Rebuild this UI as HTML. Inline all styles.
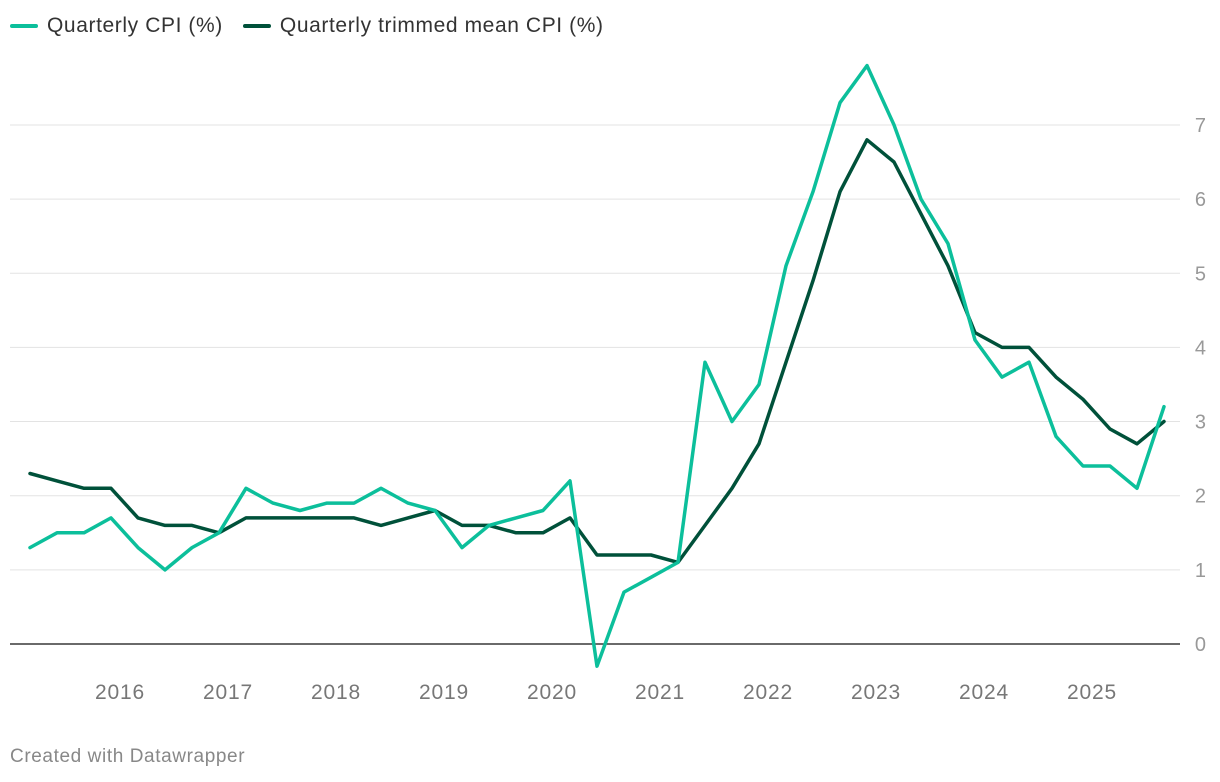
<!DOCTYPE html>
<html><head><meta charset="utf-8">
<style>
body{margin:0;background:#fff;width:1220px;height:782px;overflow:hidden;font-family:"Liberation Sans",sans-serif;}
.legend{position:absolute;top:14px;left:10px;font-size:21px;letter-spacing:0.6px;color:#333;display:flex;gap:20px;}
.li{display:flex;align-items:center;gap:9px;}
.sw{width:28px;height:4px;border-radius:2px;}
.credit{position:absolute;left:10px;top:746px;font-size:19px;letter-spacing:0.6px;color:#888;}
svg{position:absolute;left:0;top:0;}
</style></head><body>
<div class="legend">
<div class="li"><div class="sw" style="background:#0cbf9b"></div>Quarterly CPI (%)</div>
<div class="li"><div class="sw" style="background:#00513a"></div>Quarterly trimmed mean CPI (%)</div>
</div>
<svg id="chart" width="1220" height="782"></svg>
<div class="credit">Created with Datawrapper</div>
<script>
const startYear = 2015, startMonth = 3;
const cpi = [1.3,1.5,1.5,1.7,1.3,1.0,1.3,1.5,2.1,1.9,1.8,1.9,1.9,2.1,1.9,1.8,1.3,1.6,1.7,1.8,2.2,-0.3,0.7,0.9,1.1,3.8,3.0,3.5,5.1,6.1,7.3,7.8,7.0,6.0,5.4,4.1,3.6,3.8,2.8,2.4,2.4,2.1,3.2];
const trimmed = [2.3,2.2,2.1,2.1,1.7,1.6,1.6,1.5,1.7,1.7,1.7,1.7,1.7,1.6,1.7,1.8,1.6,1.6,1.5,1.5,1.7,1.2,1.2,1.2,1.1,1.6,2.1,2.7,3.8,4.9,6.1,6.8,6.5,5.8,5.1,4.2,4.0,4.0,3.6,3.3,2.9,2.7,3.0];
const yTicks = [0,1,2,3,4,5,6,7];
const xTicks = [2016,2017,2018,2019,2020,2021,2022,2023,2024,2025];

const NS="http://www.w3.org/2000/svg";
const svg=document.getElementById('chart');
const x0=30, t0=startYear+(startMonth-1)/12, pxPerYear=108;
const xScale=t=>x0+(t-t0)*pxPerYear;
const yScale=v=>644-v*74.15;
const tOf=i=>t0+i*0.25;
function mk(tag,attrs){const e=document.createElementNS(NS,tag);for(const k in attrs)e.setAttribute(k,attrs[k]);svg.appendChild(e);return e;}
yTicks.forEach(v=>{
  const l=mk('line',{x1:10,x2:1180,y1:yScale(v),y2:yScale(v),stroke:v===0?'#111':'#e3e3e3','stroke-width':v===0?1.2:1});
  
  
  const t=mk('text',{x:1206,y:yScale(v)+7,'text-anchor':'end','font-size':20,fill:'#999','font-family':'Liberation Sans, sans-serif'});
  t.textContent=v;
  
  
});
xTicks.forEach(yr=>{
  const t=mk('text',{x:xScale(yr),y:699,'text-anchor':'middle','font-size':21,'letter-spacing':0.8,fill:'#777','font-family':'Liberation Sans, sans-serif'});
  t.textContent=yr;
  
  
});
function line(data,color,name){
  const d=data.map((v,i)=>(i?'L':'M')+xScale(tOf(i)).toFixed(1)+','+yScale(v).toFixed(1)).join('');
  const p=mk('path',{d:d,fill:'none',stroke:color,'stroke-width':3.5,'stroke-linejoin':'round','stroke-linecap':'round'});
  
  
}
line(trimmed,'#00513a','trimmed-mean-line');
line(cpi,'#0cbf9b','cpi-line');
</script>
</body></html>
